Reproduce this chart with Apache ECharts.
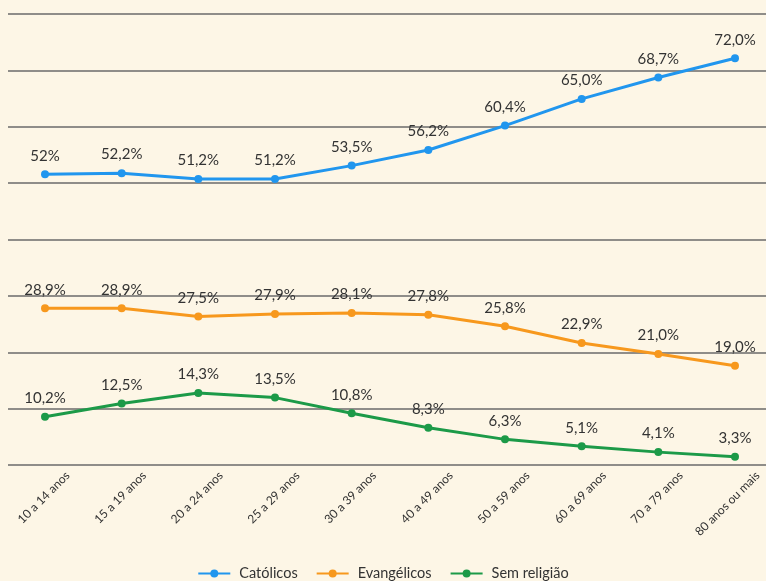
<!DOCTYPE html>
<html><head><meta charset="utf-8">
<script src="https://cdn.jsdelivr.net/npm/echarts@6/dist/echarts.min.js"></script>
<style>html,body{margin:0;padding:0;background:#fdf6e6;}#c{width:766px;height:581px;}</style>
</head><body><div id="c"></div>
<script>
const categories = ['10 a 14 anos','15 a 19 anos','20 a 24 anos','25 a 29 anos','30 a 39 anos','40 a 49 anos','50 a 59 anos','60 a 69 anos','70 a 79 anos','80 anos ou mais'];
const catolicos = ['52','52.2','51.2','51.2','53.5','56.2','60.4','65.0','68.7','72.0'];
const evangelicos = ['28.9','28.9','27.5','27.9','28.1','27.8','25.8','22.9','21.0','19.0'];
const semReligiao = ['10.2','12.5','14.3','13.5','10.8','8.3','6.3','5.1','4.1','3.3'];
const seriesNames = ['Católicos','Evangélicos','Sem religião'];
const colors = ['#2196ee','#f7981d','#1c9a48'];

const chart = echarts.init(document.getElementById('c'));
const fmt = p => String(p.data).replace('.', ',') + '%';
function mk(name, data, color){
  return {
    name, type:'line', data, color, xAxisIndex:1, yAxisIndex:1,
    symbol:'circle', symbolSize:8,
    lineStyle:{width:3, color},
    itemStyle:{color},
    label:{show:true, position:'top', distance:7, formatter:fmt, color:'#333', fontSize:15, fontFamily:'Lato'},
    emphasis:{disabled:true}, animation:false
  };
}
const yCommon = {type:'value', min:1.88, max:79.64, interval:9.72,
    axisLabel:{show:false}, axisLine:{show:false}, axisTick:{show:false}};
chart.setOption({
  backgroundColor:'#fdf6e6',
  animation:false,
  grid:[
    {left:8, right:0, top:14, height:451, containLabel:false},
    {left:45, right:31, top:14, height:451, containLabel:false}
  ],
  xAxis:[
    {gridIndex:0, type:'value', show:false, min:0, max:1},
    {gridIndex:1, type:'category', data:categories, boundaryGap:false,
    axisLine:{show:false}, axisTick:{show:false}, splitLine:{show:false},
    axisLabel:{rotate:45, interval:0, margin:-14, align:'right', verticalAlign:'top', padding:[26,0,0,0],
      color:'#333', fontSize:12, fontFamily:'Lato'}}
  ],
  yAxis:[
    Object.assign({gridIndex:0, splitLine:{show:true, lineStyle:{color:'#6a6a6a', width:1.5}}}, yCommon),
    Object.assign({gridIndex:1, splitLine:{show:false}}, yCommon)
  ],
  legend:{bottom:-5, left:'center', itemWidth:32, itemHeight:10, itemGap:18,
    textStyle:{color:'#333', fontSize:14.5, fontFamily:'Lato', padding:[0,0,0,4]},
    data:seriesNames},
  series:[mk(seriesNames[0], catolicos, colors[0]), mk(seriesNames[1], evangelicos, colors[1]), mk(seriesNames[2], semReligiao, colors[2])]
});
</script></body></html>
